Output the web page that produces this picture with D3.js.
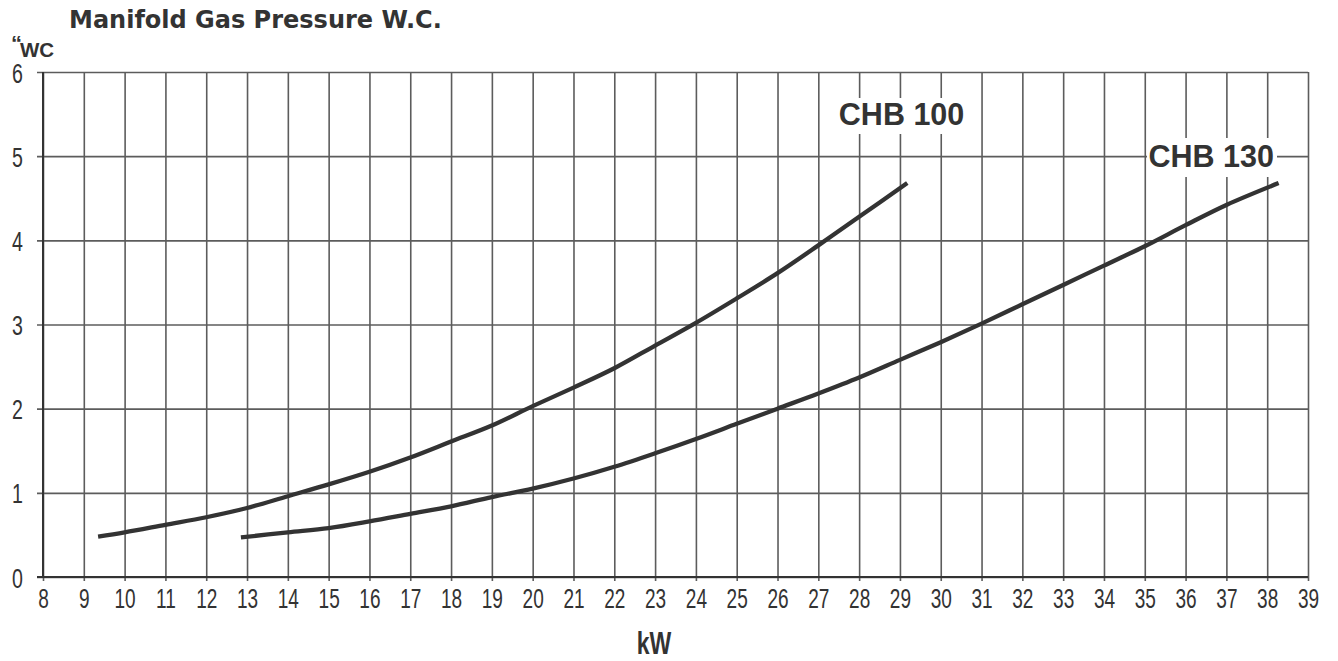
<!DOCTYPE html>
<html>
<head>
<meta charset="utf-8">
<script src="https://cdn.jsdelivr.net/npm/d3@7"></script>
<style>
  html, body { margin: 0; padding: 0; background: #fff; }
  svg { display: block; }
</style>
</head>
<body>
<svg id="chart" width="1338" height="661"></svg>
<script>
// ---- data ----
const xTicks = [8,9,10,11,12,13,14,15,16,17,18,19,20,21,22,23,24,25,26,27,28,29,30,31,32,33,34,35,36,37,38,39];
const yTicks = [0,1,2,3,4,5,6];

const chb100Kw = [9.35, 10, 11, 12, 13, 14, 15, 16, 17, 18, 19, 20, 21, 22, 23, 24, 25, 26, 27, 28, 29.18];
const chb100P  = [0.48, 0.53, 0.62, 0.71, 0.82, 0.96, 1.10, 1.25, 1.42, 1.61, 1.80, 2.03, 2.25, 2.48, 2.75, 3.02, 3.31, 3.61, 3.94, 4.28, 4.68];

const chb130Kw = [12.85, 14, 15, 16, 17, 18, 19, 20, 21, 22, 23, 24, 25, 26, 27, 28, 29, 30, 31, 32, 33, 34, 35, 36, 37, 38.28];
const chb130P  = [0.47, 0.53, 0.58, 0.66, 0.75, 0.84, 0.95, 1.05, 1.17, 1.31, 1.47, 1.64, 1.82, 2.00, 2.18, 2.37, 2.58, 2.79, 3.01, 3.24, 3.47, 3.70, 3.93, 4.18, 4.42, 4.68];

const seriesNames = ["CHB 100", "CHB 130"];
const labelPos = [[29.04, 5.50], [36.63, 5.0]]; // label centre in data units

const titleText = "Manifold Gas Pressure W.C.";
const yUnit = "WC";
const xUnit = "kW";

// ---- drawing ----
const svg = d3.select("#chart");
const x = d3.scaleLinear().domain([8, 39]).range([43, 1308]);
const y = d3.scaleLinear().domain([0, 6]).range([577, 72]);

const ink = "#333";
const grid = "#5c5c5c";
const sans = "'Liberation Sans', Arial, sans-serif";

// horizontal grid
svg.append("g").attr("transform", "translate(1308,0)")
  .call(d3.axisLeft(y).tickValues(yTicks).tickSize(1308 - 37).tickFormat(""))
  .call(g => g.select(".domain").remove())
  .call(g => g.selectAll("line").attr("stroke", grid).attr("stroke-width", 1.6));

// vertical grid
svg.append("g").attr("transform", "translate(0,72)")
  .call(d3.axisBottom(x).tickValues(xTicks).tickSize(581 - 72).tickFormat(""))
  .call(g => g.select(".domain").remove())
  .call(g => g.selectAll("line").attr("stroke", grid).attr("stroke-width", 1.6));

// axis lines
svg.append("line").attr("x1", x(8)).attr("x2", x(8)).attr("y1", y(6)).attr("y2", y(0))
  .attr("stroke", ink).attr("stroke-width", 2);
svg.append("line").attr("x1", 37).attr("x2", x(39)).attr("y1", y(0)).attr("y2", y(0))
  .attr("stroke", ink).attr("stroke-width", 2.2);

// y tick labels (condensed)
svg.append("g").attr("transform", "translate(23,0)")
  .call(d3.axisLeft(y).tickValues(yTicks).tickSize(0).tickPadding(0).tickFormat(d3.format("d")))
  .call(g => g.select(".domain").remove())
  .call(g => g.selectAll("text").attr("font-family", sans).attr("font-size", 28)
    .attr("fill", ink).attr("dy", "0.36em").attr("transform", "scale(0.7,1)"));

// x tick labels (condensed)
svg.append("g").attr("transform", "translate(0,588)")
  .call(d3.axisBottom(x).tickValues(xTicks).tickSize(0).tickPadding(0).tickFormat(d3.format("d")))
  .call(g => g.select(".domain").remove())
  .call(g => g.selectAll("text").attr("font-family", sans).attr("font-size", 28)
    .attr("fill", ink).attr("dy", "0.72em").attr("transform", "scale(0.68,1)"));

// series labels with white boxes
const labelBoxes = [[835, 98, 133, 36], [1147, 138, 130, 39]];
seriesNames.forEach((name, i) => {
  const b = labelBoxes[i];
  svg.append("rect").attr("x", b[0]).attr("y", b[1]).attr("width", b[2]).attr("height", b[3]).attr("fill", "#fff");
  svg.append("text").attr("x", x(labelPos[i][0])).attr("y", y(labelPos[i][1]))
    .attr("text-anchor", "middle").attr("dy", "0.36em")
    .attr("font-family", sans).attr("font-weight", "bold")
    .attr("font-size", 30.5).attr("fill", ink).text(name);
});

// curves
const line = d3.line().x(d => x(d[0])).y(d => y(d[1])).curve(d3.curveCatmullRom);
const s100 = chb100Kw.map((k, i) => [k, chb100P[i]]);
const s130 = chb130Kw.map((k, i) => [k, chb130P[i]]);
[s100, s130].forEach(s => {
  svg.append("path").datum(s).attr("d", line).attr("fill", "none")
    .attr("stroke", ink).attr("stroke-width", 4.3).attr("stroke-linecap", "butt");
});

// title and units
svg.append("text").attr("x", 69).attr("y", 28)
  .attr("font-family", "'DejaVu Sans', Verdana, sans-serif").attr("font-weight", "bold")
  .attr("font-size", 24).attr("fill", ink).text(titleText);

const yu = svg.append("text").attr("x", 11).attr("y", 57)
  .attr("font-family", sans).attr("font-weight", "bold").attr("fill", ink);
yu.append("tspan").attr("font-size", 22).attr("dy", -6).text("\u201C");
yu.append("tspan").attr("font-size", 20.5).attr("dy", 6).attr("dx", -2).text(yUnit);

svg.append("text").attr("transform", "translate(654,654) scale(0.72,1)").attr("text-anchor", "middle")
  .attr("font-family", sans).attr("font-weight", "bold")
  .attr("font-size", 32).attr("fill", ink).text(xUnit);
</script>
</body>
</html>
